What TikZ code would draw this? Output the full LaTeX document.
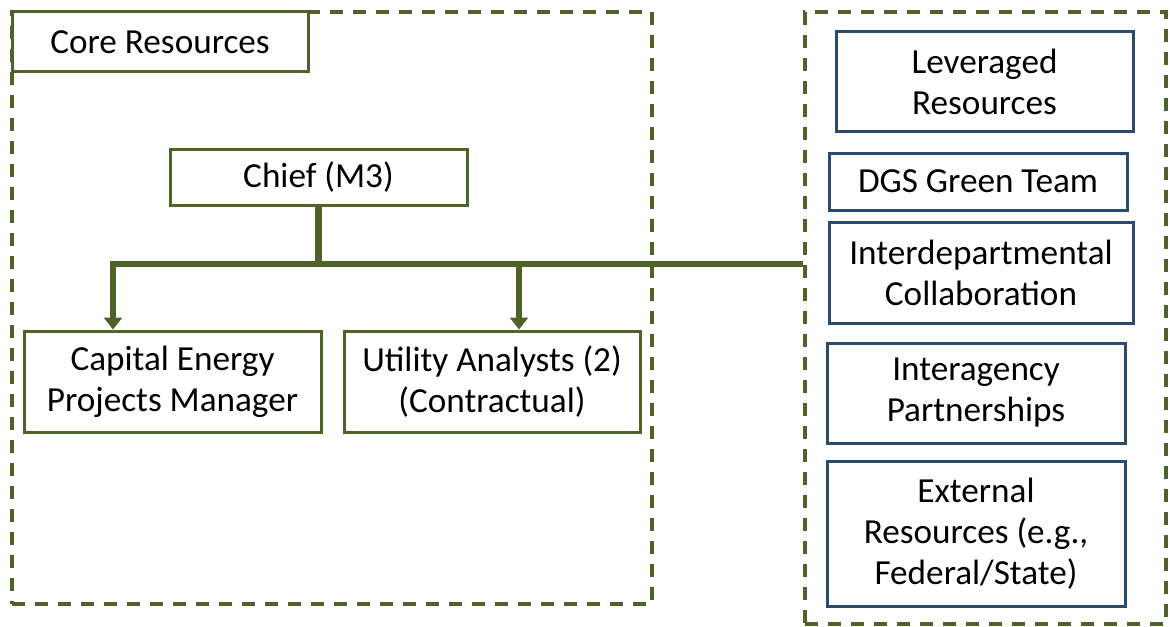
\documentclass[tikz,border=0pt]{standalone}
\usepackage{fontspec}
\setmainfont{Carlito}
\usetikzlibrary{arrows.meta,positioning,calc}

\definecolor{olive}{HTML}{4F6228}
\definecolor{navy}{HTML}{2A4A70}

\tikzset{
  area/.style={draw=olive, line width=1.9pt, dash pattern=on 6.5pt off 5pt, inner sep=0pt},
  corebox/.style={draw=olive, line width=1.5pt, fill=white, align=center, inner sep=0pt},
  levbox/.style={draw=navy, line width=1.5pt, fill=white, align=center, inner sep=0pt},
  link/.style={draw=olive, line width=3.3pt},
  tip/.style={-{Triangle[width=9pt,length=6pt]}}
}

\begin{document}
\begin{tikzpicture}[x=0.5pt, y=-0.5pt, font=\fontsize{17.6}{20.5}\selectfont]
    \useasboundingbox (0,0) rectangle (1170,626);

    % Dashed groups
    \node[area, minimum width=320pt, minimum height=296pt] (corearea) at (332,308) {};
    \node[area, minimum width=180.5pt, minimum height=306pt] (levarea) at (985.5,318) {};

    % Core resources
    \node[corebox, minimum width=148pt, minimum height=30pt] (core) at (160,42) {Core Resources};
    \node[corebox, minimum width=148.5pt, minimum height=28pt] (chief) at (318.5,177) {Chief (M3)};
    \node[corebox, minimum width=148.5pt, minimum height=50.5pt] (capital) at (172.5,381.5) {Capital Energy\\Projects Manager};
    \node[corebox, minimum width=148pt, minimum height=50.5pt] (utility) at (492,381.5) {Utility Analysts (2)\\(Contractual)};

    % Leveraged resources
    \node[levbox, minimum width=148.5pt, minimum height=49.5pt] (leveraged) at (984.5,81.5) {Leveraged\\Resources};
    \node[levbox, minimum width=149pt, minimum height=28.5pt] (dgs) at (978,181.5) {DGS Green Team};
    \node[levbox, minimum width=152pt, minimum height=50.5pt] (interdept) at (981,272.5) {Interdepartmental\\Collaboration};
    \node[levbox, minimum width=149pt, minimum height=50pt] (interagency) at (976,393) {Interagency\\Partnerships};
    \node[levbox, minimum width=149pt, minimum height=72.5pt] (external) at (976,533.5) {External\\Resources (e.g.,\\Federal/State)};

    % Reporting lines
    \coordinate (bus) at (316,264);
    \coordinate (leftdrop) at (113,264);
    \coordinate (rightdrop) at (519,264);
    \draw[link] (chief.south) -- (chief.south |- bus);
    \draw[link] ([xshift=-1.65pt]leftdrop) -- (levarea.west |- bus);
    \draw[link, tip] (leftdrop) -- (leftdrop |- capital.north);
    \draw[link, tip] (rightdrop) -- (rightdrop |- utility.north);
\end{tikzpicture}
\end{document}
